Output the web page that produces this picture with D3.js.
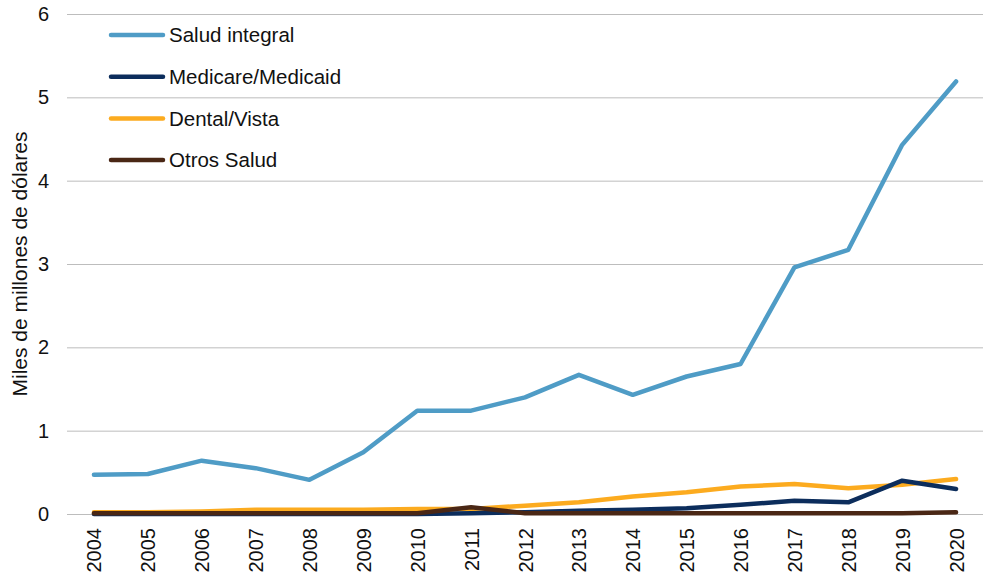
<!DOCTYPE html>
<html>
<head>
<meta charset="utf-8">
<script src="https://cdn.jsdelivr.net/npm/d3@7"></script>
<style>
  html, body { margin: 0; padding: 0; background: #fff; }
  svg { display: block; font-family: "Liberation Sans", Arial, sans-serif; }
</style>
</head>
<body>
<svg id="chart" width="985" height="575"></svg>
<script>
// Years on the horizontal axis
const years = ["2004","2005","2006","2007","2008","2009","2010","2011","2012","2013","2014","2015","2016","2017","2018","2019","2020"];

// Spending by category, thousands of millions of dollars
const saludIntegral     = [0.47, 0.48, 0.64, 0.55, 0.41, 0.74, 1.24, 1.24, 1.40, 1.67, 1.43, 1.65, 1.80, 2.96, 3.17, 4.43, 5.19];
const medicareMedicaid  = [0.00, 0.00, 0.00, 0.00, 0.00, 0.00, 0.00, 0.01, 0.02, 0.04, 0.05, 0.07, 0.11, 0.16, 0.14, 0.40, 0.30];
const dentalVista       = [0.02, 0.02, 0.03, 0.05, 0.05, 0.05, 0.06, 0.06, 0.10, 0.14, 0.21, 0.26, 0.33, 0.36, 0.31, 0.35, 0.42];
const otrosSalud        = [0.01, 0.01, 0.01, 0.01, 0.01, 0.01, 0.01, 0.08, 0.01, 0.01, 0.01, 0.01, 0.01, 0.01, 0.01, 0.01, 0.02];

const seriesNames  = ["Salud integral", "Medicare/Medicaid", "Dental/Vista", "Otros Salud"];
const seriesValues = [saludIntegral, medicareMedicaid, dentalVista, otrosSalud];
const seriesColors = ["#4f9cc6", "#0c2d5c", "#fcab1f", "#4a2715"];

const yTicks = [0, 1, 2, 3, 4, 5, 6];
const yTitle = "Miles de millones de dólares";

const svg = d3.select("#chart");
const margin = { left: 67, right: 2, top: 14, bottom: 61 };
const W = 985, H = 575;

const x = d3.scalePoint()
  .domain(years)
  .range([margin.left, W - margin.right])
  .padding(0.5);

const y = d3.scaleLinear()
  .domain([0, 6])
  .range([H - margin.bottom, margin.top]);

// Horizontal gridlines with value labels
const yAxis = svg.append("g")
  .attr("transform", `translate(${margin.left},0)`)
  .call(d3.axisLeft(y).tickValues(yTicks).tickFormat(d3.format("d"))
    .tickSize(-(W - margin.left - margin.right)).tickPadding(18));
yAxis.select(".domain").remove();
yAxis.selectAll(".tick line").attr("stroke", "#bdbdbd").attr("stroke-width", 1);
yAxis.selectAll(".tick text").attr("fill", "#111").style("font-size", "20px");

// Year labels, rotated
const xAxis = svg.append("g")
  .attr("transform", `translate(0,${H - margin.bottom})`)
  .call(d3.axisBottom(x).tickSize(0).tickPadding(0));
xAxis.select(".domain").remove();
xAxis.selectAll(".tick text")
  .attr("fill", "#111")
  .style("font-size", "20px")
  .attr("text-anchor", "end")
  .attr("transform", "rotate(-90)")
  .attr("x", -14)
  .attr("y", 0)
  .attr("dy", "0.35em");

// Axis title
svg.append("text")
  .attr("transform", `translate(27,${(margin.top + H - margin.bottom) / 2}) rotate(-90)`)
  .attr("text-anchor", "middle")
  .attr("fill", "#111")
  .style("font-size", "21px")
  .text(yTitle);

// Lines, drawn bottom-most series last
const line = d3.line()
  .x((d, i) => x(years[i]))
  .y(d => y(d));

const order = [0, 2, 1, 3];
order.forEach(k => {
  svg.append("path")
    .datum(seriesValues[k])
    .attr("fill", "none")
    .attr("stroke", seriesColors[k])
    .attr("stroke-width", 4.5)
    .attr("stroke-linejoin", "round")
    .attr("stroke-linecap", "round")
    .attr("d", line);
});

// Legend
const legend = svg.append("g");
seriesNames.forEach((name, i) => {
  const ly = 35 + i * 41.7;
  legend.append("line")
    .attr("x1", 111).attr("x2", 163)
    .attr("y1", ly).attr("y2", ly)
    .attr("stroke", seriesColors[i])
    .attr("stroke-width", 4.5)
    .attr("stroke-linecap", "round");
  legend.append("text")
    .attr("x", 169).attr("y", ly)
    .attr("dy", "0.35em")
    .attr("fill", "#111")
    .style("font-size", "20.5px")
    .text(name);
});
</script>
</body>
</html>
